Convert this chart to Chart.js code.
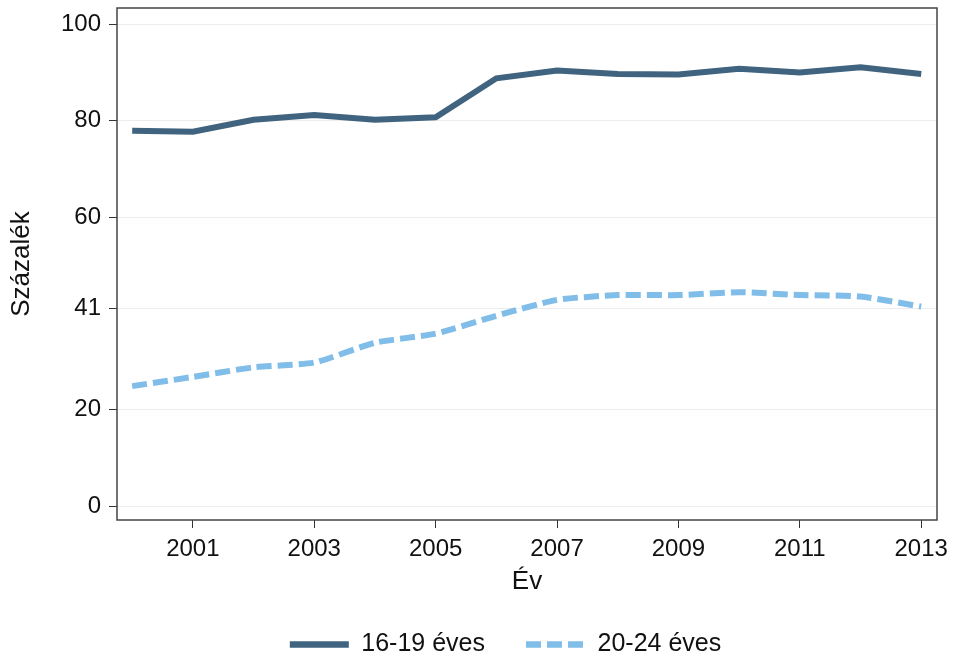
<!DOCTYPE html>
<html>
<head>
<meta charset="utf-8">
<script src="https://cdn.jsdelivr.net/npm/chart.js@4.4.0/dist/chart.umd.min.js"></script>
<style>
  html, body { margin: 0; padding: 0; background: #fff; overflow: hidden; }
  #wrap { width: 954px; height: 667px; }
</style>
</head>
<body>
<div id="wrap"><canvas id="myChart"></canvas></div>
<script>
const years = [2000, 2001, 2002, 2003, 2004, 2005, 2006, 2007, 2008, 2009, 2010, 2011, 2012, 2013];
const teens = [77.9, 77.7, 80.2, 81.2, 80.2, 80.7, 88.8, 90.4, 89.7, 89.6, 90.8, 90.0, 91.1, 89.7];
const young = [24.9, 26.8, 28.8, 29.8, 33.9, 35.8, 39.5, 42.8, 43.8, 43.8, 44.4, 43.8, 43.5, 41.4];
const xTicks = [2001, 2003, 2005, 2007, 2009, 2011, 2013];
const yTicks = [0, 20, 41, 60, 80, 100];

Chart.defaults.font.family = '"Liberation Sans", Arial, sans-serif';
Chart.defaults.color = '#111';

// box round the plot area
const frame = {
  id: 'frame',
  afterDatasetsDraw(chart) {
    const a = chart.chartArea;
    const ctx = chart.ctx;
    ctx.save();
    ctx.strokeStyle = '#444';
    ctx.lineWidth = 1.5;
    ctx.strokeRect(a.left, a.top, a.right - a.left, a.bottom - a.top);
    ctx.restore();
  }
};

// legend sits a bit right of the canvas centre in the original
const legendShift = {
  id: 'legendShift',
  afterLayout(chart) {
    chart.legend.left += 37;
    chart.legend.right += 37;
  }
};

let ctx = document.getElementById('myChart').getContext('2d');

let lineChart = new Chart(ctx, {
  type: 'line',
  data: {
    datasets: [{
      label: '16-19 éves',
      data: years.map((y, i) => ({ x: y, y: teens[i] })),
      borderColor: '#40647f',
      backgroundColor: '#40647f',
      borderWidth: 6,
      pointRadius: 0,
      pointStyle: 'line',
      tension: 0
    }, {
      label: '20-24 éves',
      data: years.map((y, i) => ({ x: y, y: young[i] })),
      borderColor: '#80bde8',
      backgroundColor: '#80bde8',
      borderWidth: 6,
      borderDash: [15, 6],
      pointRadius: 0,
      pointStyle: 'line',
      tension: 0.2
    }]
  },
  options: {
    responsive: true,
    maintainAspectRatio: false,
    animation: false,
    layout: { padding: { left: 0, right: 17, top: 8, bottom: 0 } },
    plugins: {
      tooltip: { enabled: false },
      legend: {
        position: 'bottom',
        labels: {
          usePointStyle: true,
          pointStyleWidth: 59,
          padding: 41,
          font: { size: 25 },
          color: '#111',
          generateLabels: chart => Chart.defaults.plugins.legend.labels.generateLabels(chart).map((l, i) => {
            const ds = chart.data.datasets[i];
            l.lineDash = ds.borderDash || [];
            l.lineWidth = 6.5;
            l.strokeStyle = ds.borderColor;
            return l;
          })
        }
      }
    },
    scales: {
      x: {
        type: 'linear',
        min: 1999.75,
        max: 2013.26,
        afterBuildTicks: s => { s.ticks = xTicks.map(v => ({ value: v })); },
        afterFit: s => { s.height = 71; s.paddingLeft = 0; s.paddingRight = 0; },
        ticks: {
          font: { size: 24 },
          color: '#111',
          padding: 7,
          maxRotation: 0,
          callback: v => String(v)
        },
        grid: { drawOnChartArea: false, tickLength: 8, tickColor: '#333' },
        border: { display: false },
        title: { display: true, text: 'Év', font: { size: 26 }, color: '#111', padding: { top: 0, bottom: -6 } }
      },
      y: {
        min: -2.9,
        max: 103.4,
        afterBuildTicks: s => { s.ticks = yTicks.map(v => ({ value: v })); },
        afterFit: s => { s.width = 117; s.paddingTop = 0; s.paddingBottom = 0; },
        ticks: { font: { size: 24 }, color: '#111', padding: 8 },
        grid: { color: '#ececec', lineWidth: 1, tickLength: 8, tickColor: '#333' },
        border: { display: false },
        title: { display: true, text: 'Százalék', font: { size: 26 }, color: '#111', padding: { top: 6, bottom: 0 } }
      }
    }
  },
  plugins: [frame, legendShift]
});
</script>
</body>
</html>
